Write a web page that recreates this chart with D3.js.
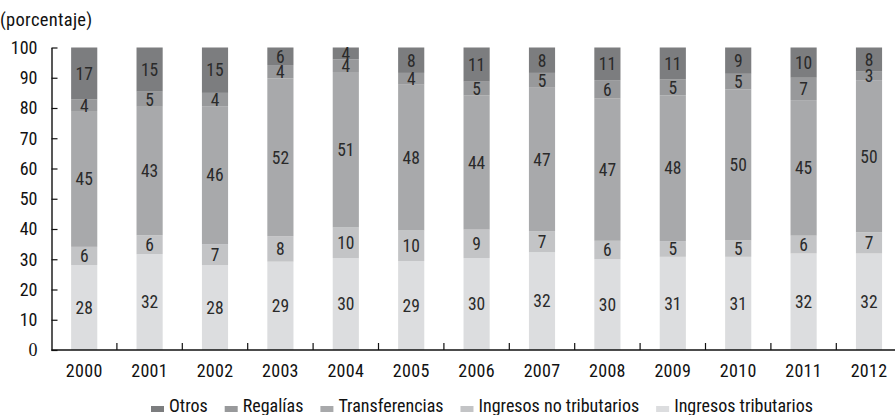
<!DOCTYPE html>
<html>
<head>
<meta charset="utf-8">
<script src="https://cdn.jsdelivr.net/npm/d3@7"></script>
<style>
  html, body { margin: 0; padding: 0; background: #fff; }
  svg { display: block; }
  text { font-family: "Roboto Condensed", "Liberation Sans Narrow", "Arial Narrow", sans-serif; font-weight: 400; fill: #222; }
</style>
</head>
<body>
<svg id="chart" width="895" height="415"></svg>
<script>
const years = ["2000","2001","2002","2003","2004","2005","2006","2007","2008","2009","2010","2011","2012"];
const seriesNames = ["Ingresos tributarios","Ingresos no tributarios","Transferencias","Regalías","Otros"];
const ingresosTributarios   = [28.1, 31.7, 28.1, 29.2, 30.4, 29.4, 30.4, 32.3, 30.0, 30.8, 30.8, 31.9, 31.9];
const ingresosNoTributarios = [6.0, 6.2, 6.9, 8.4, 10.1, 10.1, 9.4, 7.0, 6.1, 5.2, 5.4, 5.9, 7.0];
const transferencias        = [44.9, 42.5, 45.6, 52.2, 51.4, 48.2, 44.3, 47.4, 47.0, 48.2, 49.9, 44.8, 50.3];
const regalias              = [3.8, 5.0, 4.4, 4.4, 4.2, 3.9, 4.6, 4.9, 6.1, 5.2, 5.2, 7.4, 3.0];
const otros                 = [17.2, 14.6, 15.0, 5.8, 3.9, 8.4, 11.3, 8.4, 10.8, 10.6, 8.7, 10.0, 7.8];
const yTicks = [0, 10, 20, 30, 40, 50, 60, 70, 80, 90, 100];
const legendOrder = ["Otros","Regalías","Transferencias","Ingresos no tributarios","Ingresos tributarios"];
const colors = ["#dcdddf", "#c3c4c6", "#a8a9ab", "#98999b", "#7c7d7f"];

const valuesBySeries = [ingresosTributarios, ingresosNoTributarios, transferencias, regalias, otros];
const rows = years.map((y, i) => {
  const r = { year: y };
  seriesNames.forEach((s, k) => r[s] = valuesBySeries[k][i]);
  return r;
});

const svg = d3.select("#chart");
const x0 = 51.5, step = 65.4;
const x = d3.scaleBand().domain(years)
  .range([x0, x0 + step * years.length])
  .paddingInner(0.6).paddingOuter(0.3);
const y = d3.scaleLinear().domain([0, 100]).range([350, 47.5]);
const color = d3.scaleOrdinal().domain(seriesNames).range(colors);

const stacked = d3.stack().keys(seriesNames)(rows);

// bars
const g = svg.append("g");
stacked.forEach(layer => {
  g.selectAll(null).data(layer).enter().append("rect")
    .attr("x", d => x(d.data.year))
    .attr("width", x.bandwidth())
    .attr("y", d => y(d[1]))
    .attr("height", d => y(d[0]) - y(d[1]))
    .attr("fill", color(layer.key));
});
// labels
stacked.forEach(layer => {
  g.selectAll(null).data(layer).enter().append("text")
    .attr("x", d => x(d.data.year) + x.bandwidth() / 2)
    .attr("y", d => (y(d[0]) + y(d[1])) / 2)
    .attr("dy", "0.36em")
    .attr("text-anchor", "middle")
    .style("font-size", "17.5px")
    .style("fill", "#2a2a2a")
    .text(d => Math.round(d[1] - d[0]));
});

// y axis
const yAxis = d3.axisLeft(y).tickValues(yTicks).tickSizeInner(-6).tickSizeOuter(0).tickPadding(14);
const yg = svg.append("g").attr("transform", `translate(${x0},0)`).call(yAxis);
yg.attr("font-family", null).attr("font-size", null);
yg.select(".domain").attr("stroke", "#111").attr("stroke-width", 1.4);
yg.selectAll(".tick line").attr("stroke", "#111").attr("stroke-width", 1.2);
yg.selectAll(".tick text").style("font-size", "18px").style("fill", "#111")
  .style("font-family", d => d === 0 ? "'Liberation Serif', serif" : null);

// x axis
const xAxis = d3.axisBottom(x).tickSize(0).tickPadding(14);
const xg = svg.append("g").attr("transform", `translate(0,${y(0)})`).call(xAxis);
xg.attr("font-family", null).attr("font-size", null);
xg.select(".domain").attr("d", `M${x0},0H895`).attr("stroke", "#111").attr("stroke-width", 1.6);
xg.selectAll(".tick text").style("font-size", "18px").style("fill", "#111").style("letter-spacing", "0.3px");
// boundary ticks between categories
xg.selectAll(".sep").data(years.slice(0, -1)).enter().append("line")
  .attr("x1", d => x(d) + x.bandwidth() / 2 + x.step() / 2)
  .attr("x2", d => x(d) + x.bandwidth() / 2 + x.step() / 2)
  .attr("y1", 0).attr("y2", -7)
  .attr("stroke", "#111").attr("stroke-width", 1.2);

svg.selectAll(".domain").attr("fill", "none");

// unit label
svg.append("text").attr("x", 0).attr("y", 26).style("font-size", "18.5px").style("letter-spacing", "0.3px").style("fill", "#111").text("(porcentaje)");

// legend
const lg = svg.append("g").attr("transform", "translate(151,412)");
let cx = 0;
legendOrder.forEach(name => {
  const item = lg.append("g").attr("transform", `translate(${cx},0)`);
  item.append("rect").attr("x", 0).attr("y", -6).attr("width", 13).attr("height", 6).attr("fill", color(name));
  const t = item.append("text").attr("x", 18).attr("y", 0).style("font-size", "18px").style("fill", "#111").text(name);
  cx += 18 + t.node().getComputedTextLength() + 17;
});
</script>
</body>
</html>
